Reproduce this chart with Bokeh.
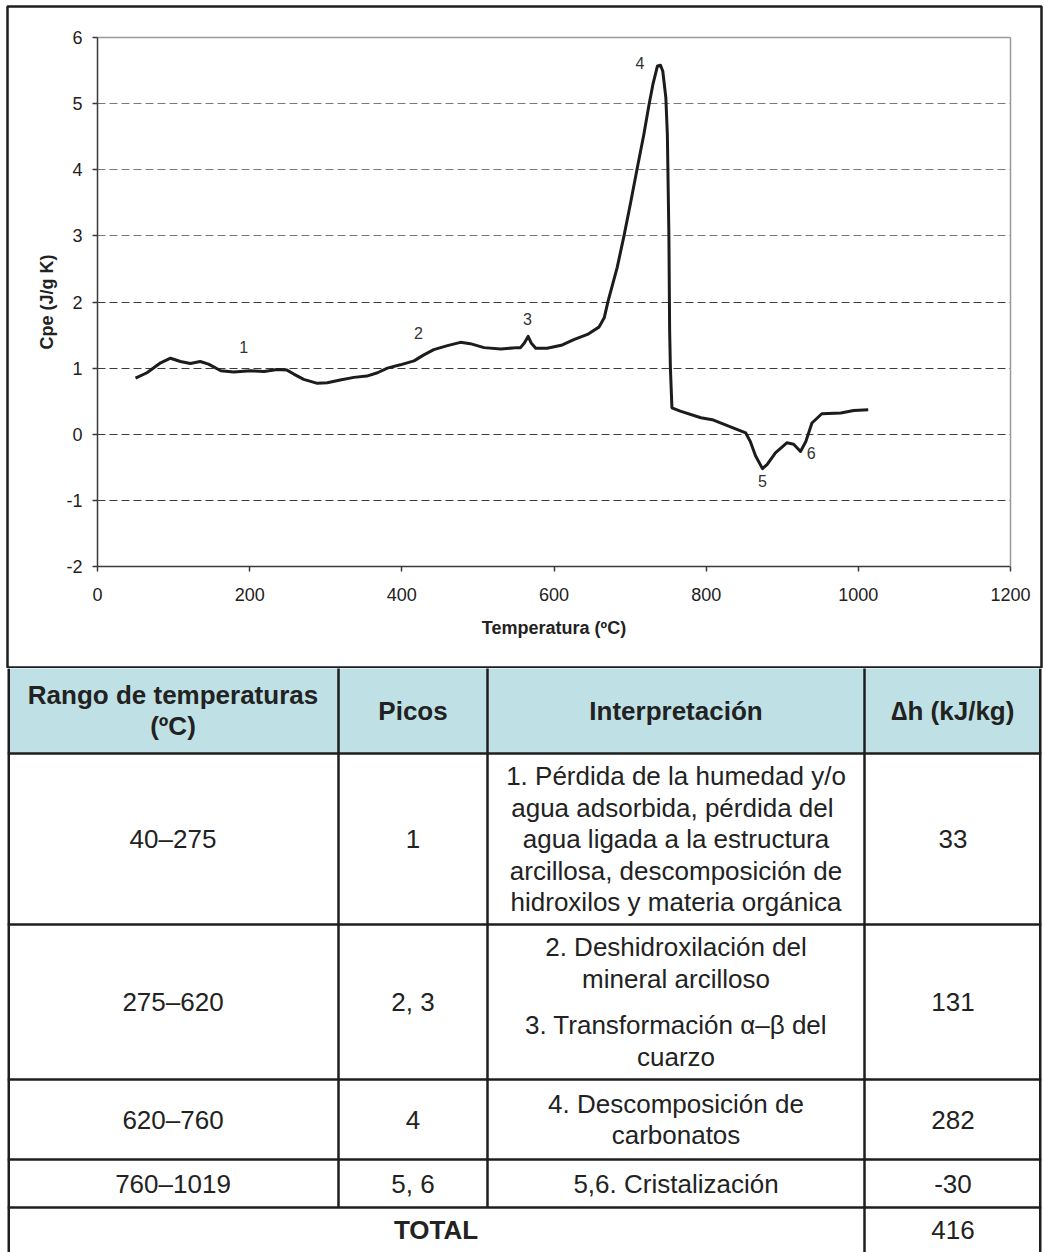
from bokeh.plotting import figure
from bokeh.layouts import column
from bokeh.models import Range1d, FixedTicker, LinearAxis, Grid
from bokeh.core.properties import value
from bokeh.embed import file_html
from bokeh.resources import INLINE

# ---- DSC curve: effective heat capacity vs temperature ----
temp = [50, 65, 83, 96, 109, 122, 135, 146, 162, 179, 201, 219, 236, 249, 258,
        271, 289, 302, 319, 337, 354, 368, 381, 398, 416, 429, 442, 460, 477,
        490, 508, 530, 552, 556, 561, 566, 570, 576, 591, 611, 626, 644, 659,
        666, 671, 683, 692, 701, 709, 718, 725, 730, 736, 740, 743, 747, 749,
        751, 752, 753, 755, 766, 793, 808, 832, 852, 858, 865, 874, 880, 891,
        906, 915, 924, 931, 939, 952, 977, 994, 1013]
cpe = [0.85, 0.93, 1.08, 1.15, 1.10, 1.07, 1.10, 1.06, 0.96, 0.94, 0.96, 0.95,
       0.98, 0.97, 0.91, 0.83, 0.77, 0.78, 0.82, 0.86, 0.88, 0.93, 1.00, 1.05,
       1.11, 1.20, 1.28, 1.34, 1.39, 1.37, 1.31, 1.29, 1.31, 1.31, 1.38, 1.48,
       1.38, 1.30, 1.30, 1.35, 1.43, 1.51, 1.62, 1.76, 2.01, 2.52, 3.00, 3.52,
       4.00, 4.53, 4.99, 5.29, 5.57, 5.58, 5.49, 5.09, 4.53, 3.02, 1.56, 1.00,
       0.40, 0.35, 0.25, 0.22, 0.11, 0.02, -0.11, -0.33, -0.52, -0.46, -0.28,
       -0.13, -0.15, -0.26, -0.11, 0.17, 0.31, 0.32, 0.36, 0.37]

peak_labels = ["1", "2", "3", "4", "5", "6"]
peak_x = [192, 422, 565, 713, 874, 938]
peak_y = [1.32, 1.53, 1.75, 5.61, -0.70, -0.29]

x_ticks = [0, 200, 400, 600, 800, 1000, 1200]
y_ticks = [-2, -1, 0, 1, 2, 3, 4, 5, 6]
grid_low = [-1, 0, 1, 2]
grid_high = [3, 4, 5]

# ---- summary table ----
header = ["Rango de temperaturas\n(ºC)", "Picos", "Interpretación", "∆h (kJ/kg)"]
rangos = ["40–275", "275–620", "620–760", "760–1019"]
picos = ["1", "2, 3", "4", "5, 6"]
interpretacion = [
    [["1. Pérdida de la humedad y/o", "agua adsorbida,  pérdida del",
      "agua ligada a la estructura", "arcillosa, descomposición de",
      "hidroxilos y materia orgánica"]],
    [["2. Deshidroxilación del", "mineral arcilloso"],
     ["3. Transformación α–β del", "cuarzo"]],
    [["4. Descomposición de", "carbonatos"]],
    [["5,6. Cristalización"]],
]
delta_h = [33, 131, 282, -30]
total_label = "TOTAL"

FONT = "Liberation Sans"
INK = "#222222"
RULE = "#1e1e1e"
W = 1044
PAGE_H = 1252

# page geometry (pixels)
BOX_L, BOX_R, BOX_T = 7, 1041, 6          # outer frame
SPLIT = 667                               # chart / table boundary
PA_L, PA_R, PA_T, PA_B = 97, 1010, 37, 566  # plot area of the chart

X0, X1 = x_ticks[0], x_ticks[-1]
Y0, Y1 = y_ticks[0], y_ticks[-1]
sx = (PA_R - PA_L) / (X1 - X0)
sy = (PA_B - PA_T) / (Y1 - Y0)

# ------------------------------------------------------------------ chart
CHART_H = SPLIT + 1
p = figure(width=W, height=CHART_H,
           x_range=Range1d(X0 - (PA_L - BOX_L) / sx, X1 + (BOX_R - PA_R) / sx),
           y_range=Range1d(Y0 - (SPLIT - PA_B) / sy, Y1 + (PA_T - BOX_T) / sy),
           x_axis_type=None, y_axis_type=None,
           output_backend="svg", toolbar_location=None,
           min_border_left=BOX_L, min_border_right=W - BOX_R,
           min_border_top=BOX_T, min_border_bottom=CHART_H - SPLIT)
p.background_fill_color = "white"
p.border_fill_color = "white"
p.outline_line_color = RULE
p.outline_line_width = 2.5

xaxis = LinearAxis(fixed_location=Y0, bounds=(X0, X1),
                   ticker=FixedTicker(ticks=x_ticks),
                   axis_label="Temperatura (ºC)")
yaxis = LinearAxis(fixed_location=X0, bounds=(Y0, Y1),
                   ticker=FixedTicker(ticks=y_ticks),
                   axis_label="Cpe (J/g K)",
                   major_label_overrides={-1: "-1", -2: "-2"})
for ax in (xaxis, yaxis):
    ax.axis_line_color = "#3a3a3a"
    ax.axis_line_width = 1.5
    ax.major_tick_line_color = "#3a3a3a"
    ax.major_tick_line_width = 1.5
    ax.major_tick_out = 5
    ax.major_tick_in = 0
    ax.minor_tick_line_color = None
    ax.major_label_text_font = FONT
    ax.major_label_text_font_size = "18px"
    ax.major_label_text_color = INK
    ax.axis_label_text_font = FONT
    ax.axis_label_text_font_size = "18px"
    ax.axis_label_text_font_style = "bold"
    ax.axis_label_text_color = INK
xaxis.major_label_standoff = 16
xaxis.axis_label_standoff = 14
yaxis.major_label_standoff = 10
yaxis.axis_label_standoff = 6
p.add_layout(xaxis, "below")
p.add_layout(yaxis, "left")

# light grey edges closing the plot area at the top and on the right
top_edge = LinearAxis(fixed_location=Y1, bounds=(X0, X1), ticker=FixedTicker(ticks=[]),
                      axis_line_color="#9a9a9a", axis_line_width=1.5,
                      major_tick_line_color=None, minor_tick_line_color=None)
right_edge = LinearAxis(fixed_location=X1, bounds=(Y0, Y1), ticker=FixedTicker(ticks=[]),
                        axis_line_color="#9a9a9a", axis_line_width=1.5,
                        major_tick_line_color=None, minor_tick_line_color=None)
p.add_layout(top_edge, "above")
p.add_layout(right_edge, "right")

# dashed horizontal gridlines (the upper ones print lighter)
p.add_layout(Grid(dimension=1, ticker=FixedTicker(ticks=grid_low),
                  cross_bounds=(X0, X1), grid_line_color="#3c3c3c",
                  grid_line_dash="8 4", grid_line_width=1))
p.add_layout(Grid(dimension=1, ticker=FixedTicker(ticks=grid_high),
                  cross_bounds=(X0, X1), grid_line_color="#7a7a7a",
                  grid_line_dash="8 4", grid_line_width=1))

p.line(temp, cpe, line_width=3, line_color="#1c1c1c", line_join="round")
p.text(x=peak_x, y=peak_y, text=peak_labels, text_align="center",
       text_baseline="middle", text_font=value(FONT), text_font_size="16px",
       text_color="#333333")

# ------------------------------------------------------------------ table
TAB_H = PAGE_H - CHART_H
t = figure(width=W, height=TAB_H, x_range=Range1d(BOX_L, BOX_R),
           y_range=Range1d(PAGE_H, CHART_H),
           output_backend="svg", toolbar_location=None,
           min_border_left=BOX_L, min_border_right=W - BOX_R,
           min_border_top=0, min_border_bottom=0,
           x_axis_type=None, y_axis_type=None)
t.grid.visible = False
t.outline_line_color = None
t.background_fill_color = "white"
t.border_fill_color = "white"

col_edges = [BOX_L, 338, 487, 864, BOX_R]
row_edges = [SPLIT, 753, 924, 1079, 1159, 1207, PAGE_H]
col_mid = [(a + b) / 2 for a, b in zip(col_edges[:-1], col_edges[1:])]
row_mid = [(a + b) / 2 for a, b in zip(row_edges[:-1], row_edges[1:])]

t.quad(left=BOX_L, right=BOX_R, top=row_edges[0], bottom=row_edges[1],
       fill_color="#BFE1E5", line_color=None)

# inner rules of the table
x0, y0, x1, y1 = [], [], [], []
for ry in row_edges[1:-1]:
    x0.append(BOX_L); x1.append(BOX_R); y0.append(ry); y1.append(ry)
x0.append(col_edges[3]); x1.append(col_edges[3]); y0.append(row_edges[0]); y1.append(PAGE_H)
for cx in (col_edges[1], col_edges[2]):
    x0.append(cx); x1.append(cx); y0.append(row_edges[0]); y1.append(row_edges[5])
t.segment(x0=x0, y0=y0, x1=x1, y1=y1, line_color=RULE, line_width=2.5)
# outer left/right sides sit on the frame edge, so half of the stroke is clipped
t.segment(x0=[BOX_L, BOX_R], y0=[CHART_H, CHART_H], x1=[BOX_L, BOX_R],
          y1=[PAGE_H, PAGE_H], line_color=RULE, line_width=5)

# header
hx, hy, ht = [], [], []
for i, h in enumerate(header):
    lines = h.split("\n")
    lh = 31
    start = row_mid[0] - (len(lines) - 1) * lh / 2
    for k, ln in enumerate(lines):
        hx.append(col_mid[i]); hy.append(start + k * lh); ht.append(ln)
t.text(x=hx, y=hy, text=ht, text_align="center", text_baseline="middle",
       text_font=value(FONT), text_font_size="26px", text_font_style="bold",
       text_color=INK)

# body
bx, by, bt = [], [], []
LH, GAP = 31.5, 15
for r in range(4):
    ym = row_mid[r + 1]
    bx += [col_mid[0], col_mid[1], col_mid[3]]
    by += [ym, ym, ym]
    bt += [rangos[r], picos[r], str(delta_h[r])]
    paras = interpretacion[r]
    n = sum(len(pp) for pp in paras)
    total_h = (n - 1) * LH + (len(paras) - 1) * GAP
    y = ym - total_h / 2
    for pp in paras:
        for ln in pp:
            bx.append(col_mid[2]); by.append(y); bt.append(ln)
            y += LH
        y += GAP
bx.append(col_mid[3]); by.append(row_mid[5]); bt.append(str(sum(delta_h)))
t.text(x=bx, y=by, text=bt, text_align="center", text_baseline="middle",
       text_font=value(FONT), text_font_size="26px", text_color=INK)
t.text(x=[(col_edges[0] + col_edges[3]) / 2], y=[row_mid[5]], text=[total_label],
       text_align="center", text_baseline="middle", text_font=value(FONT),
       text_font_size="26px", text_font_style="bold", text_color=INK)

layout = column(p, t, spacing=0)
open("out.html", "w").write(file_html(layout, INLINE))
